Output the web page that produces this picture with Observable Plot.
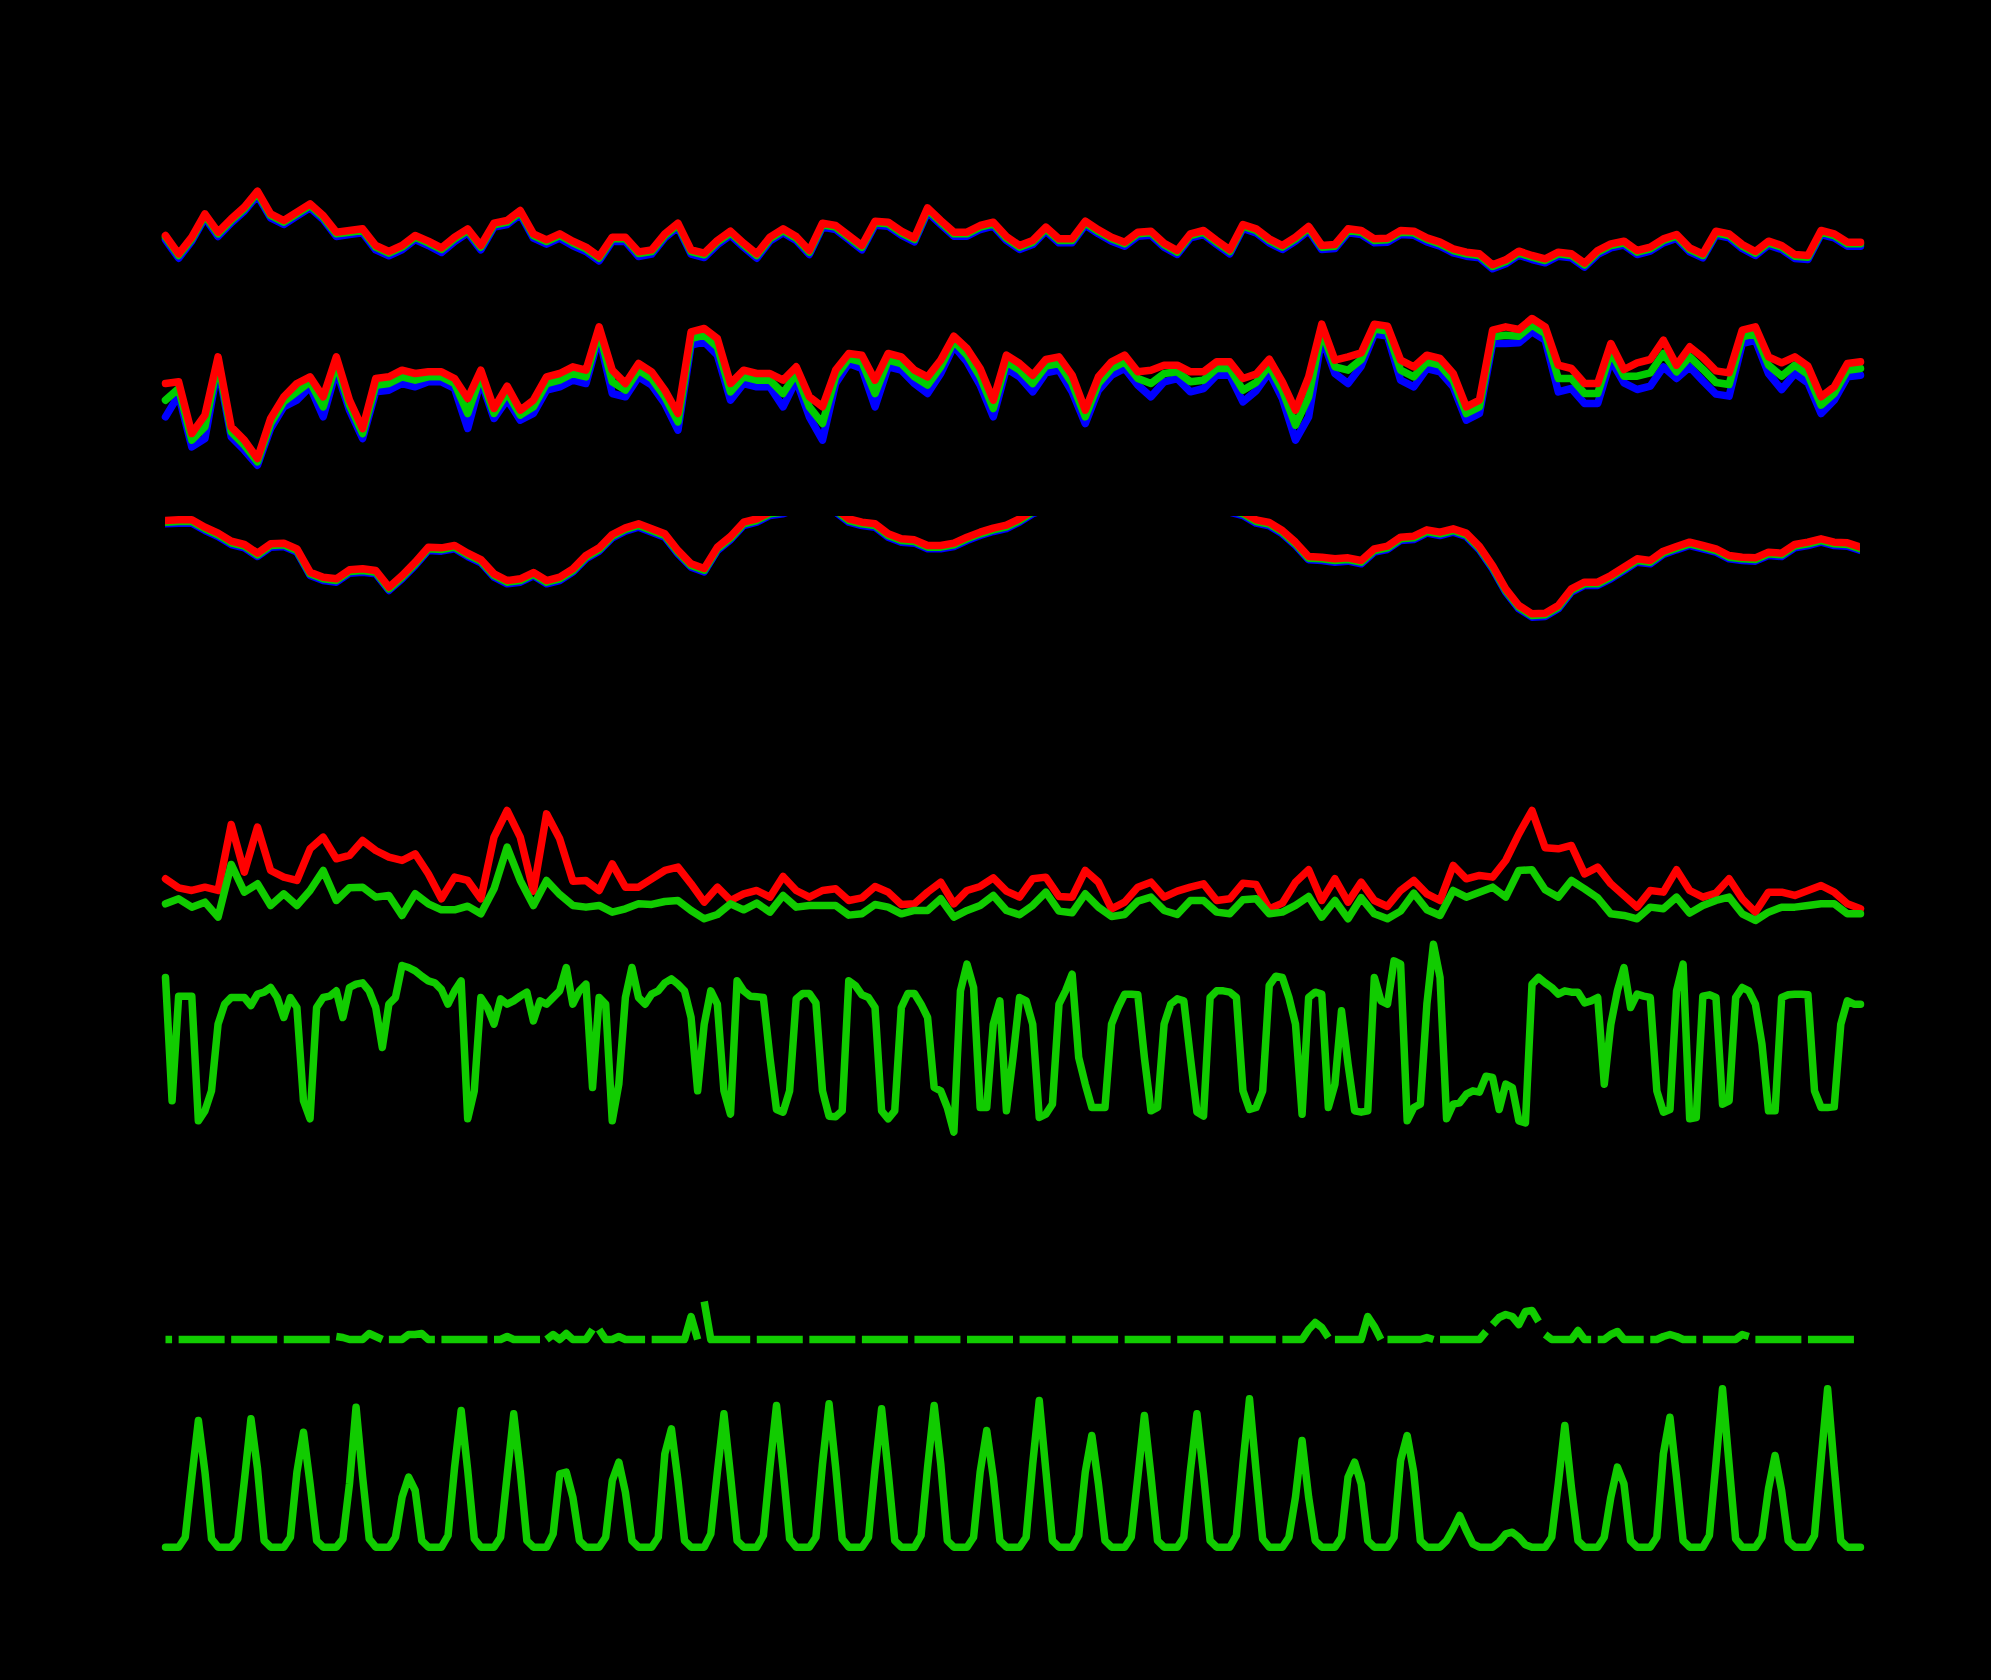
<!DOCTYPE html>
<html>
<head>
<meta charset="utf-8">
<title>Station record</title>
<script src="https://cdn.jsdelivr.net/npm/d3@7"></script>
<script src="https://cdn.jsdelivr.net/npm/@observablehq/plot@0.6"></script>
<style>
  html, body { margin: 0; padding: 0; background: #000; overflow: hidden; }
  #chart { position: relative; width: 1991px; height: 1680px; background: #000; }
</style>
</head>
<body>
<div id="chart"></div>
<script>
// One month of station data. Rows 1-4 are 6-hourly, rows 5-7 are 3-hourly.
const HOURS = 774;

// temperature (degF), three sensors
const tempRed = [
  50.5, 45, 50, 57, 51.5, 55.5, 59, 63.8, 57, 55,
  57.5, 60, 56.5, 51.5, 52, 52.5, 47.5, 45.7, 47.5, 50.5,
  48.8, 46.8, 50, 52.5, 47.5, 54.2, 55, 58, 51, 49.2,
  51, 48.8, 47, 44.2, 50, 50, 45.6, 46.2, 51, 54.2,
  46.2, 45.2, 49, 51.8, 48.2, 45, 50, 52.5, 50.2, 46,
  54.2, 53.5, 50.5, 47.5, 54.8, 54.5, 51.8, 49.8, 58.8, 55,
  51.5, 51.5, 53.5, 54.5, 50.2, 47.5, 49, 53, 49.5, 49.5,
  54.8, 52.2, 50, 48.5, 51.5, 51.8, 48.2, 46, 51, 52,
  49, 46.2, 53.8, 52.5, 49.5, 47.5, 50, 53.2, 47.5, 47.8,
  52.5, 52, 49.5, 49.7, 52, 51.8, 49.8, 48.5, 46.5, 45.5,
  45, 41.7, 43.2, 45.8, 44.5, 43.5, 45.5, 45, 42.2, 46,
  48, 48.8, 46, 47, 49.5, 50.8, 46.8, 45, 51.8, 51,
  47.8, 45.7, 48.8, 47.5, 44.8, 44.5, 52, 51, 48.5, 48.5
];
const tempGreen = [
  50, 44.5, 49.5, 56.5, 51, 55, 58.5, 63.3, 56.5, 54.5,
  57, 59.5, 56, 51, 51.5, 52, 47, 45.2, 47, 50,
  48.3, 46.3, 49.5, 52, 47, 53.7, 54.5, 57.5, 50.5, 48.7,
  50.5, 48.3, 46.5, 43.7, 49.5, 49.5, 45.1, 45.7, 50.5, 53.7,
  45.7, 44.7, 48.5, 51.3, 47.7, 44.5, 49.5, 52, 49.7, 45.5,
  53.7, 53, 50, 47, 54.3, 54, 51.3, 49.3, 58.3, 54.5,
  51, 51, 53, 54, 49.7, 47, 48.5, 52.5, 49, 49,
  54.3, 51.7, 49.5, 48, 51, 51.3, 47.7, 45.5, 50.5, 51.5,
  48.5, 45.7, 53.3, 52, 49, 47, 49.5, 52.7, 47, 47.3,
  52, 51.5, 49, 49.2, 51.5, 51.3, 49.3, 48, 46, 45,
  44.5, 41.2, 42.7, 45.3, 44, 43, 45, 44.5, 41.7, 45.5,
  47.5, 48.3, 45.5, 46.5, 49, 50.3, 46.3, 44.5, 51.3, 50.5,
  47.3, 45.2, 48.3, 47, 44.3, 44, 51.5, 50.5, 48, 48
];
const tempBlue = [
  49.2, 43.7, 48.8, 55.8, 50.2, 54.3, 57.8, 62.5, 55.8, 53.8,
  56.3, 58.8, 55.3, 50.2, 50.8, 51.3, 46.2, 44.4, 46.2, 49.3,
  47.5, 45.4, 48.7, 51.3, 46.2, 53, 53.8, 56.8, 49.7, 47.9,
  49.7, 47.4, 45.7, 42.9, 48.7, 48.7, 44.2, 44.9, 49.8, 53,
  44.9, 43.9, 47.7, 50.6, 47, 43.7, 48.8, 51.3, 49, 44.8,
  53, 52.3, 49.3, 46.2, 53.6, 53.3, 50.6, 48.6, 57.5, 53.8,
  50.3, 50.3, 52.3, 53.3, 49, 46.3, 47.8, 51.8, 48.3, 48.3,
  53.6, 51, 48.8, 47.3, 50.3, 50.6, 47, 44.8, 49.8, 50.8,
  47.8, 45, 52.6, 51.3, 48.3, 46.3, 48.8, 52, 46.3, 46.6,
  51.3, 50.8, 48.3, 48.5, 50.8, 50.6, 48.6, 47.3, 45.3, 44.3,
  43.8, 40.5, 42, 44.6, 43.3, 42.3, 44.3, 43.8, 41, 44.8,
  46.8, 47.6, 44.8, 45.8, 48.3, 49.6, 45.6, 43.8, 50.6, 49.8,
  46.6, 44.5, 47.6, 46.3, 43.6, 43.3, 50.8, 49.8, 47.3, 47.3
];

// relative humidity (%), three sensors
const humRed = [
  76, 76.5, 61, 66.5, 84, 63, 59, 53.5, 65.5, 72,
  76, 78, 72, 84, 71, 62.5, 77.5, 78, 80, 79,
  79.5, 79.5, 77.5, 71.5, 80, 68.5, 75.2, 68, 71, 78,
  79, 81, 80, 93, 80, 76, 82, 79.5, 74, 67,
  91.5, 92.5, 89.5, 76, 80, 79, 79, 77, 81, 72,
  69, 80, 85, 84.5, 77, 85, 84, 80, 78, 83,
  90.2, 86.5, 80.5, 71, 84.5, 82, 78.5, 83.2, 84, 78.5,
  68, 78, 82.5, 84.5, 79.5, 80, 81.5, 81.5, 79.5, 79.5,
  82.5, 82.5, 77.5, 78.8, 83.3, 76.5, 68, 78, 93.8, 83,
  84, 85.2, 93.8, 93.2, 83, 81, 84.5, 83.5, 79, 69,
  71, 92, 93, 92.2, 95.5, 93, 81.5, 80.5, 76, 76,
  88, 80.2, 82.2, 83.2, 89, 81.5, 87, 83.8, 79.8, 79.2,
  92, 93, 84, 82.2, 84, 81.2, 72, 75, 82, 82.5
];
const humGreen = [
  71, 74.5, 59, 63, 82.5, 61.5, 57.5, 52.5, 64, 70.5,
  73.5, 76.5, 69, 82, 69.5, 61, 75.5, 76, 78, 77,
  78, 78, 76, 67, 78.5, 67, 73.2, 66.5, 69, 76,
  77, 79, 78, 91.5, 76.5, 74, 80, 77.5, 72, 64.5,
  89.5, 90.5, 87, 73.5, 78, 77, 77, 73, 79, 69,
  64, 78, 83.5, 82.5, 73, 83, 82, 78, 75.5, 81,
  88.7, 84.5, 78, 68.5, 82.5, 80, 76, 81.2, 82, 76,
  66, 76, 80.5, 82.5, 77.5, 76, 79, 79.5, 76.5, 77,
  80.5, 80.5, 74, 76.3, 81.3, 74, 63.5, 72, 91.8, 81,
  80, 83.2, 92.3, 91.7, 80, 78, 82.5, 81.5, 77, 67,
  69, 90, 90.5, 90.2, 93.5, 91, 77.5, 77.5, 73, 73,
  85.5, 78.2, 78.2, 79.2, 85, 79.5, 84, 80.3, 76.3, 75.7,
  90, 91, 81.5, 78.2, 81.5, 78.7, 69.5, 73, 80, 80.5
];
const humBlue = [
  66, 72.5, 57, 59.5, 81, 60, 56, 51.5, 62.5, 69,
  71, 75, 66, 80, 68, 59.5, 73.5, 74, 76, 75,
  76.5, 76.5, 74.5, 62.5, 77, 65.5, 71.2, 65, 67, 74,
  75, 77, 76, 90, 73, 72, 78, 75.5, 70, 62,
  87.5, 88.5, 84.5, 71, 76, 75, 75, 69, 77, 66,
  59, 76, 82, 80.5, 69, 81, 80, 76, 73, 79,
  87.2, 82.5, 75.5, 66, 80.5, 78, 73.5, 79.2, 80, 73.5,
  64, 74, 78.5, 80.5, 75.5, 72, 76.5, 77.5, 73.5, 74.5,
  78.5, 78.5, 70.5, 73.8, 79.3, 71.5, 59, 66, 89.8, 79,
  76, 81.2, 90.8, 90.2, 77, 75, 80.5, 79.5, 75, 65,
  67, 88, 88, 88.2, 91.5, 89, 73.5, 74.5, 70, 70,
  83, 76.2, 74.2, 75.2, 81, 77.5, 81, 76.8, 72.8, 72.2,
  88, 89, 79, 74.2, 79, 76.2, 67, 71, 78, 78.5
];

// pressure (hPa), three sensors; the panel tops out at 1016.2 so high values get cut
const pressRed = [
  1015, 1015.2, 1015.2, 1013, 1011.2, 1008.8, 1007.8, 1005.2, 1008, 1008.2,
  1006.5, 999.5, 998, 997.5, 1000.2, 1000.5, 1000, 995, 998.5, 1002.5,
  1007, 1006.8, 1007.5, 1005.2, 1003.3, 999, 997, 997.5, 999.4, 997,
  998, 1000.5, 1004.5, 1006.8, 1010.8, 1012.8, 1014, 1012.5, 1011, 1006,
  1002, 1000.6, 1007, 1010.2, 1014.5, 1015.5, 1017.5, 1018, 1019.5, 1020,
  1019.5, 1018.5, 1015.5, 1014.5, 1014, 1011, 1009.5, 1009.2, 1007.5, 1007.5,
  1008.2, 1010, 1011.5, 1012.7, 1013.6, 1015.5, 1018, 1019.5, 1021, 1022.5,
  1023, 1024, 1025, 1025, 1024, 1023, 1022, 1021, 1020.5, 1020,
  1019.5, 1018.5, 1017.5, 1015.2, 1014.4, 1012, 1008.5, 1004.2, 1004, 1003.5,
  1003.8, 1003, 1006.5, 1007.3, 1010, 1010.3, 1012.2, 1011.5, 1012.5, 1011.2,
  1007.2, 1001.5, 994.5, 989.5, 987, 987.2, 989.5, 994.5, 996.5, 996.5,
  998.5, 1001, 1003.5, 1003, 1005.8, 1007.2, 1008.5, 1007.5, 1006.5, 1004.5,
  1004, 1003.8, 1005.5, 1005.2, 1007.8, 1008.5, 1009.5, 1008.5, 1008.3, 1007
];
const pressGreen = [
  1014.5, 1014.7, 1014.7, 1012.5, 1010.7, 1008.3, 1007.3, 1004.7, 1007.5, 1007.7,
  1006, 999, 997.5, 997, 999.7, 1000, 999.5, 994.5, 998, 1002,
  1006.5, 1006.3, 1007, 1004.7, 1002.8, 998.5, 996.5, 997, 998.9, 996.5,
  997.5, 1000, 1004, 1006.3, 1010.3, 1012.3, 1013.5, 1012, 1010.5, 1005.5,
  1001.5, 1000.1, 1006.5, 1009.7, 1014, 1015, 1017, 1017.5, 1019, 1019.5,
  1019, 1018, 1015, 1014, 1013.5, 1010.5, 1009, 1008.7, 1007, 1007,
  1007.7, 1009.5, 1011, 1012.2, 1013.1, 1015, 1017.5, 1019, 1020.5, 1022,
  1022.5, 1023.5, 1024.5, 1024.5, 1023.5, 1022.5, 1021.5, 1020.5, 1020, 1019.5,
  1019, 1018, 1017, 1014.7, 1013.9, 1011.5, 1008, 1003.7, 1003.5, 1003,
  1003.3, 1002.5, 1006, 1006.8, 1009.5, 1009.8, 1011.7, 1011, 1012, 1010.7,
  1006.7, 1001, 994, 989, 986.5, 986.7, 989, 994, 996, 996,
  998, 1000.5, 1003, 1002.5, 1005.3, 1006.7, 1008, 1007, 1006, 1004,
  1003.5, 1003.3, 1005, 1004.7, 1007.3, 1008, 1009, 1008, 1007.8, 1006.5
];
const pressBlue = [
  1014, 1014.2, 1014.2, 1012, 1010.2, 1007.8, 1006.8, 1004.2, 1007, 1007.2,
  1005.5, 998.5, 997, 996.5, 999.2, 999.5, 999, 994, 997.5, 1001.5,
  1006, 1005.8, 1006.5, 1004.2, 1002.3, 998, 996, 996.5, 998.4, 996,
  997, 999.5, 1003.5, 1005.8, 1009.8, 1011.8, 1013, 1011.5, 1010, 1005,
  1001, 999.6, 1006, 1009.2, 1013.5, 1014.5, 1016.5, 1017, 1018.5, 1019,
  1018.5, 1017.5, 1014.5, 1013.5, 1013, 1010, 1008.5, 1008.2, 1006.5, 1006.5,
  1007.2, 1009, 1010.5, 1011.7, 1012.6, 1014.5, 1017, 1018.5, 1020, 1021.5,
  1022, 1023, 1024, 1024, 1023, 1022, 1021, 1020, 1019.5, 1019,
  1018.5, 1017.5, 1016.5, 1014.2, 1013.4, 1011, 1007.5, 1003.2, 1003, 1002.5,
  1002.8, 1002, 1005.5, 1006.3, 1009, 1009.3, 1011.2, 1010.5, 1011.5, 1010.2,
  1006.2, 1000.5, 993.5, 988.5, 986, 986.2, 988.5, 993.5, 995.5, 995.5,
  997.5, 1000, 1002.5, 1002, 1004.8, 1006.2, 1007.5, 1006.5, 1005.5, 1003.5,
  1003, 1002.8, 1004.5, 1004.2, 1006.8, 1007.5, 1008.5, 1007.5, 1007.3, 1006
];

// wind speed (km/h): gust and average
const windGust = [
  13.5, 10.8, 10, 11, 10, 29.8, 15.5, 29, 16, 14,
  13, 22.5, 26, 19.5, 20.5, 25, 22, 20, 19, 21,
  15, 7.5, 14, 13, 7.5, 26, 34, 26, 9.8, 33,
  25.5, 12.8, 13, 10, 18, 11, 11, 13.5, 16, 17,
  12, 6.5, 11, 7, 9, 10, 8, 14.2, 10, 8,
  10, 10.5, 7, 7.8, 11.2, 9.5, 5.8, 6, 9.5, 12.5,
  6, 10, 11.2, 13.8, 9.8, 8, 13.5, 14, 8.2, 8,
  16, 12.5, 4.5, 6.5, 11, 12.5, 8, 9.8, 11, 12,
  7, 7.5, 12.2, 11.8, 4.5, 6.2, 12.5, 16.2, 7, 13.5,
  6.5, 12.5, 7, 5.2, 10, 13, 9, 7, 17.5, 13.5,
  14.5, 14, 19, 27, 34, 22.8, 22.5, 23.5, 15, 17,
  12, 8.5, 5, 10, 9.5, 16.2, 10, 8, 9.2, 13.5,
  7.5, 3.5, 9.5, 9.5, 8.5, 10, 11.5, 9.5, 6, 4.5
];
const windAvg = [
  6, 7.5, 5, 6.5, 2, 17.8, 9.5, 12, 5.5, 9,
  5.5, 10, 16, 7, 10.8, 11, 8, 8.5, 2.5, 9,
  6, 4.2, 4.2, 5.3, 3, 10.5, 23, 13, 5.5, 13,
  8.8, 5.5, 5, 5.5, 3.5, 4.5, 6, 5.8, 6.7, 7,
  4, 1.5, 2.8, 6, 4.2, 6.2, 3.5, 8.5, 5, 5.5,
  5.5, 5.5, 2.6, 3, 5.8, 5, 3, 4, 4, 7.5,
  2, 4, 5.5, 8.5, 4, 2.7, 5.5, 9.5, 3.8, 3.3,
  9, 5, 2.2, 2.8, 6.8, 8, 4, 2.8, 7, 7,
  3.5, 3, 7.2, 7.5, 3, 3.5, 5.5, 8.2, 2, 7,
  1.5, 7.8, 3, 1.5, 3.8, 9.2, 4.2, 2.5, 10, 8,
  9.5, 11, 8, 16, 16.2, 10.2, 8, 13, 10.5, 7.8,
  3, 2.5, 1.5, 5, 4.5, 8, 3.2, 5.5, 7, 8,
  3, 1, 3.5, 5, 5, 5.5, 6, 6, 3, 3
];

// wind direction (degrees), 3-hourly
const windDir = [
  240, 55, 212, 212, 212, 25, 40, 70, 170, 200,
  210, 210, 210, 198, 215, 218, 225, 210, 180, 210,
  195, 55, 28, 195, 210, 212, 220, 180, 225, 230,
  232, 220, 195, 135, 200, 210, 258, 255, 250, 242,
  235, 232, 222, 200, 220, 235, 28, 70, 210, 195,
  170, 208, 200, 205, 212, 218, 175, 205, 200, 210,
  220, 255, 200, 220, 230, 75, 210, 200, 25, 80,
  210, 255, 210, 200, 215, 220, 232, 238, 230, 220,
  180, 70, 170, 220, 200, 70, 35, 235, 220, 212,
  211, 210, 120, 42, 38, 70, 208, 216, 216, 202,
  70, 32, 31, 40, 235, 228, 214, 210, 195, 40,
  28, 40, 195, 216, 216, 200, 180, 75, 70, 45,
  8, 220, 260, 225, 45, 45, 170, 205, 40, 120,
  210, 205, 170, 30, 35, 50, 200, 220, 245, 120,
  80, 45, 45, 45, 170, 195, 215, 215, 214, 120,
  40, 45, 170, 200, 208, 205, 120, 38, 32, 210,
  220, 220, 218, 210, 70, 42, 45, 70, 228, 242,
  240, 210, 170, 35, 210, 218, 215, 45, 80, 190,
  110, 40, 38, 40, 240, 205, 200, 265, 260, 25,
  45, 50, 200, 290, 240, 28, 50, 52, 65, 70,
  68, 92, 90, 42, 80, 75, 25, 22, 230, 240,
  232, 225, 215, 220, 218, 218, 202, 205, 210, 80,
  170, 220, 255, 195, 215, 212, 210, 70, 38, 42,
  220, 260, 28, 30, 212, 214, 210, 50, 55, 210,
  225, 220, 200, 140, 40, 40, 210, 214, 215, 215,
  214, 70, 45, 45, 46, 170, 205, 200, 200
];

// rain (mm per 3 h); first value, then one row of eight per day, then two
const rain = [
  0,
  0, 0, 0, 0, 0, 0, 0, 0,
  0, 0, 0, 0, 0, 0, 0, 0,
  0, 0, 0, 0, 0, 0, 0, 0,
  0, 0.3, 0.2, 0, 0, 0, 0.6, 0.3,
  0, 0, 0, 0, 0.5, 0.5, 0.6, 0,
  0, 0, 0, 0, 0, 0, 0, 0,
  0, 0, 0, 0.3, 0, 0, 0, 0,
  0, 0, 0.5, 0, 0.6, 0, 0, 0,
  1, 1, 0, 0, 0.3, 0, 0, 0,
  0, 0, 0, 0, 0, 0, 0, 2.3,
  0, 3.8, 0, 0, 0, 0, 0, 0,
  0, 0, 0, 0, 0, 0, 0, 0,
  0, 0, 0, 0, 0, 0, 0, 0,
  0, 0, 0, 0, 0, 0, 0, 0,
  0, 0, 0, 0, 0, 0, 0, 0,
  0, 0, 0, 0, 0, 0, 0, 0,
  0, 0, 0, 0, 0, 0, 0, 0,
  0, 0, 0, 0, 0, 0, 0, 0,
  0, 0, 0, 0, 0, 0, 0, 0,
  0, 0, 0, 0, 0, 0, 0, 0,
  0, 0, 0, 0, 0, 0, 0, 0,
  0, 0, 0, 0, 0, 1, 1.7, 1.2,
  0.2, 0, 0, 0, 0, 0, 2.3, 1.3,
  0, 0, 0, 0, 0, 0, 0, 0.2,
  0, 0, 0, 0, 0, 0, 0, 0,
  0.8, 1.5, 2.2, 2.5, 2.3, 1.5, 2.8, 2.9,
  1.8, 0.5, 0, 0, 0, 0, 0.9, 0,
  0, 0, 0, 0.5, 0.8, 0, 0, 0,
  0, 0, 0, 0.3, 0.5, 0.3, 0, 0,
  0, 0, 0, 0, 0, 0, 0, 0.5,
  0.3, 0, 0, 0, 0, 0, 0, 0,
  0, 0, 0, 0, 0, 0, 0, 0,
  0, 0
];

// solar radiation (W/m2), same layout as rain
const solar = [
  0,
  0, 0, 60, 420, 760, 450, 50, 0,
  0, 0, 50, 400, 770, 470, 40, 0,
  0, 0, 60, 450, 690, 380, 40, 0,
  0, 0, 50, 380, 840, 420, 50, 0,
  0, 0, 60, 300, 420, 340, 40, 0,
  0, 0, 70, 480, 820, 460, 50, 0,
  0, 0, 60, 430, 800, 450, 40, 0,
  0, 0, 80, 440, 450, 300, 40, 0,
  0, 0, 60, 400, 510, 330, 40, 0,
  0, 0, 60, 560, 710, 400, 40, 0,
  0, 0, 80, 450, 800, 430, 40, 0,
  0, 0, 70, 480, 850, 470, 50, 0,
  0, 0, 60, 500, 860, 480, 50, 0,
  0, 0, 60, 470, 830, 450, 40, 0,
  0, 0, 70, 480, 850, 500, 40, 0,
  0, 0, 60, 450, 700, 420, 40, 0,
  0, 0, 60, 500, 880, 460, 40, 0,
  0, 0, 70, 450, 670, 380, 40, 0,
  0, 0, 60, 420, 790, 430, 40, 0,
  0, 0, 60, 460, 800, 440, 40, 0,
  0, 0, 70, 500, 890, 460, 50, 0,
  0, 0, 60, 300, 640, 300, 40, 0,
  0, 0, 60, 420, 510, 380, 40, 0,
  0, 0, 60, 520, 670, 450, 40, 0,
  0, 0, 40, 110, 190, 100, 20, 0,
  0, 0, 30, 80, 90, 60, 15, 0,
  0, 0, 60, 380, 730, 360, 40, 0,
  0, 0, 60, 300, 480, 380, 40, 0,
  0, 0, 60, 560, 780, 420, 40, 0,
  0, 0, 70, 500, 950, 500, 50, 0,
  0, 0, 60, 350, 550, 340, 40, 0,
  0, 0, 70, 520, 950, 480, 40, 0,
  0, 0
];

const RED = "#ff0000", GREEN = "#00cc00", BLUE = "#0000ff", LIME = "#11cc00";
const PAD = 20;
const root = document.getElementById("chart");

// turn a value list into rows; rain is split into one path per day
const toRows = (values, step, splitByDay = false) =>
  values.map((v, i) => ({
    hour: i * step,
    value: v,
    day: splitByDay ? Math.floor((i * step - 6) / 24) : 0
  }));

// each panel is its own plot, stacked at its pixel band
function drawPanel({top, bottom, domain, clip = false, lines}) {
  const svg = Plot.plot({
    width: 1991,
    height: bottom - top + 2 * PAD,
    marginLeft: 165,
    marginRight: 131,
    marginTop: PAD,
    marginBottom: PAD,
    x: {domain: [0, HOURS], axis: null},
    y: {domain, axis: null},
    style: {background: "transparent"},
    marks: lines.map((l) =>
      Plot.line(l.rows, {
        x: "hour", y: "value", z: "day",
        stroke: l.color, strokeWidth: 7.5,
        strokeLinecap: l.cap || "round",
        clip
      })
    )
  });
  svg.style.position = "absolute";
  svg.style.left = "0px";
  svg.style.top = (top - PAD) + "px";
  root.append(svg);
}

drawPanel({top: 170, bottom: 270, domain: [40, 70], lines: [
  {rows: toRows(tempBlue, 6), color: BLUE},
  {rows: toRows(tempGreen, 6), color: GREEN},
  {rows: toRows(tempRed, 6), color: RED}
]});

drawPanel({top: 303.3, bottom: 503.3, domain: [40, 100], lines: [
  {rows: toRows(humBlue, 6), color: BLUE},
  {rows: toRows(humGreen, 6), color: GREEN},
  {rows: toRows(humRed, 6), color: RED}
]});

drawPanel({top: 516, bottom: 636.7, domain: [980, 1016.2], clip: true, lines: [
  {rows: toRows(pressBlue, 6), color: BLUE},
  {rows: toRows(pressGreen, 6), color: GREEN},
  {rows: toRows(pressRed, 6), color: RED}
]});

drawPanel({top: 790, bottom: 923.3, domain: [0, 40], lines: [
  {rows: toRows(windGust, 6), color: RED},
  {rows: toRows(windAvg, 6), color: LIME}
]});

drawPanel({top: 896.7, bottom: 1136.7, domain: [0, 360], lines: [
  {rows: toRows(windDir, 3), color: LIME}
]});

// butt caps keep the midnight breaks in the rain trace open
drawPanel({top: 1289.3, bottom: 1339.3, domain: [0, 5], lines: [
  {rows: toRows(rain, 3, true), color: LIME, cap: "butt"}
]});

drawPanel({top: 1380, bottom: 1546.7, domain: [0, 1000], lines: [
  {rows: toRows(solar, 3), color: LIME}
]});
</script>
</body>
</html>
